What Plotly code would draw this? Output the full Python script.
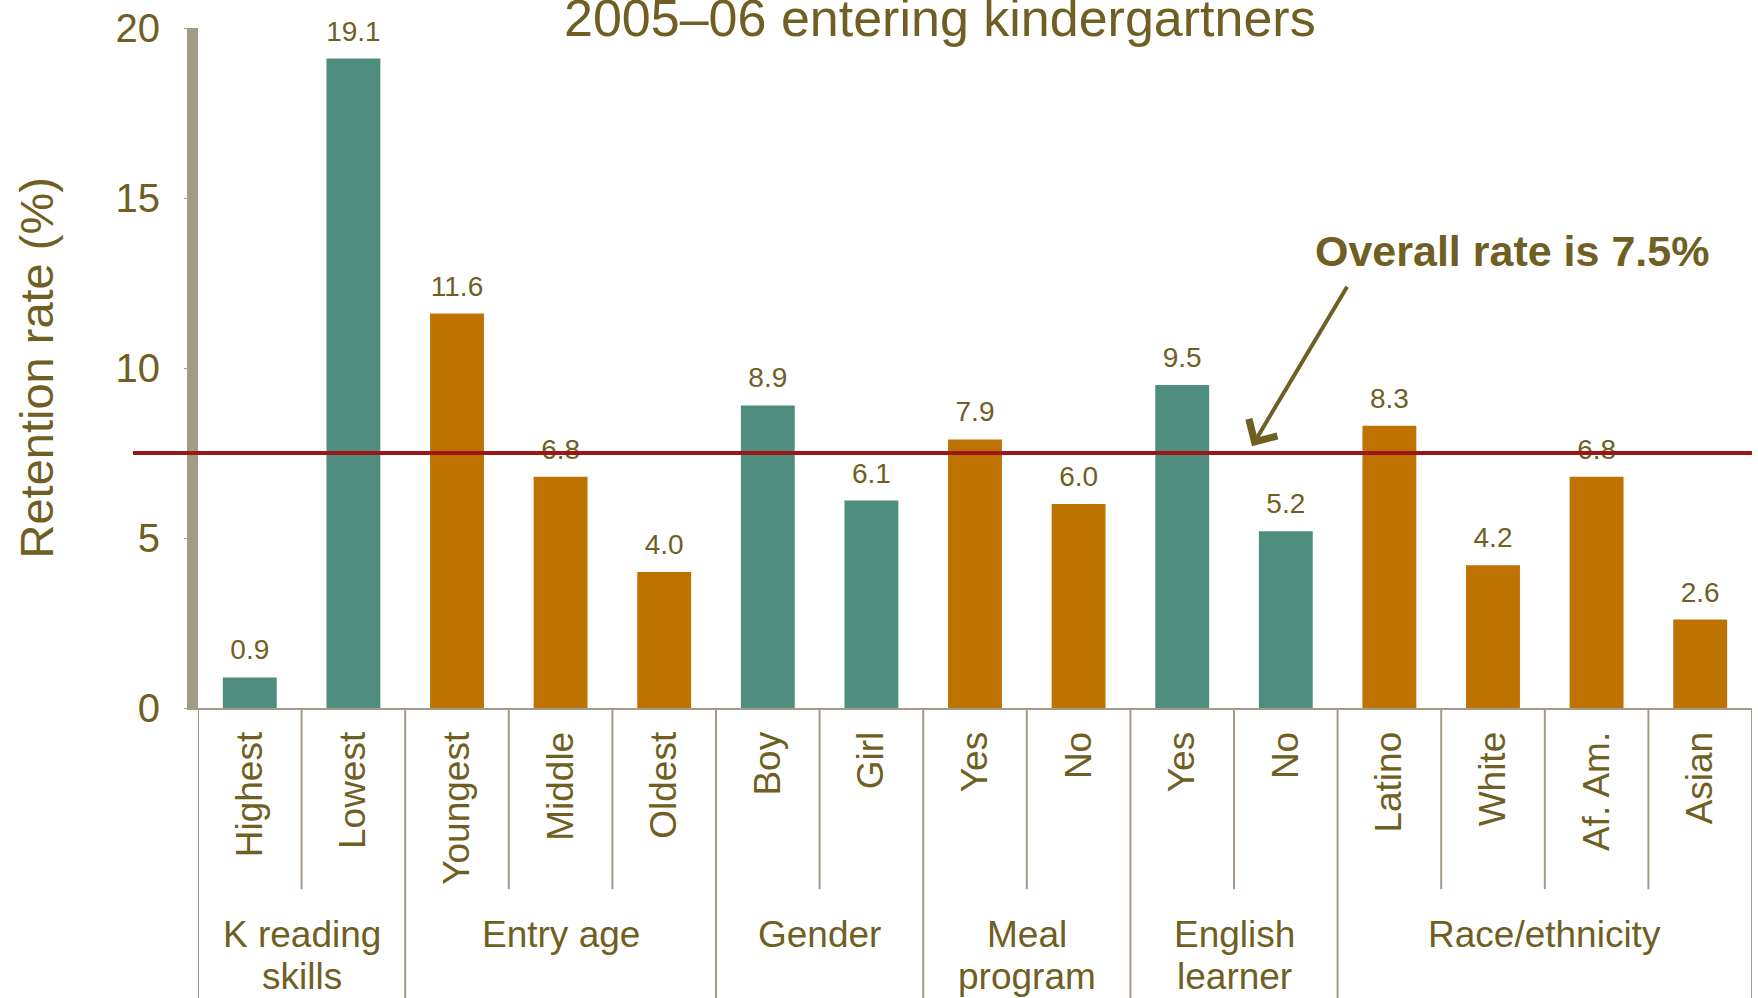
import plotly.graph_objects as go

# Retention rates (%) by student characteristic
categories = ["Highest", "Lowest", "Youngest", "Middle", "Oldest", "Boy", "Girl",
              "Yes", "No", "Yes", "No", "Latino", "White", "Af. Am.", "Asian"]
rates = [0.9, 19.1, 11.6, 6.8, 4.0, 8.9, 6.1, 7.9, 6.0, 9.5, 5.2, 8.3, 4.2, 6.8, 2.6]
group_names = [["K reading", "skills"], ["Entry age"], ["Gender"],
               ["Meal", "program"], ["English", "learner"], ["Race/ethnicity"]]
group_sizes = [2, 3, 2, 2, 2, 4]
overall_rate = 7.5
y_ticks = [0, 5, 10, 15, 20]

TEXT = "#705F23"
TEAL = "#4F8E7E"
ORANGE = "#BE7200"
GREY = "#A39A87"
RED = "#9B1717"
FONT = "Liberation Sans, Arial, sans-serif"

W, H = 1758, 998
M_L, M_R, M_T, M_B = 198, 6, 25, 290
PLOT_H = H - M_T - M_B
PLOT_W = W - M_L - M_R


def px_to_paper_y(py):
    return (H - M_B - py) / PLOT_H


def px_to_paper_x(px):
    return (px - M_L) / PLOT_W


# bar colours alternate by group
bar_colors = []
group_starts = []
pos = 0
for g, n in enumerate(group_sizes):
    group_starts.append(pos)
    bar_colors += [TEAL if g % 2 == 0 else ORANGE] * n
    pos += n

x = list(range(len(categories)))

fig = go.Figure()
fig.add_trace(go.Bar(
    x=x, y=rates, marker_color=bar_colors, marker_line_width=0,
    hoverinfo="skip", showlegend=False,
))
# value labels above each bar
fig.add_trace(go.Scatter(
    x=x, y=rates, mode="markers+text",
    text=[f"{v:.1f}" for v in rates], textposition="top center",
    textfont=dict(family=FONT, size=28, color=TEXT),
    marker=dict(size=16, color="rgba(0,0,0,0)"),
    cliponaxis=False, hoverinfo="skip", showlegend=False,
))

shapes = []
# separators between categories and between groups
boundaries = set(group_starts + [len(categories)])
for b in range(len(categories) + 1):
    is_group = b in boundaries
    shapes.append(dict(
        type="line", xref="x", yref="paper",
        x0=b - 0.5, x1=b - 0.5, y0=0,
        y1=px_to_paper_y(H + 5) if is_group else px_to_paper_y(890),
        line=dict(color=GREY, width=2),
    ))
# overall rate reference line
shapes.append(dict(
    type="line", xref="paper", yref="y",
    x0=px_to_paper_x(133), x1=1, y0=overall_rate, y1=overall_rate,
    line=dict(color=RED, width=4), layer="above",
))

annotations = []
# group labels
for start, n, lines in zip(group_starts, group_sizes, group_names):
    cx = start + (n - 1) / 2
    for i, line in enumerate(lines):
        annotations.append(dict(
            text=line, xref="x", yref="paper", x=cx,
            y=px_to_paper_y(935 + 43 * i), xanchor="center", yanchor="middle",
            showarrow=False, font=dict(family=FONT, size=37, color=TEXT),
        ))
# title
annotations.append(dict(
    text="2005\u201306 entering kindergartners", xref="paper", yref="paper",
    x=px_to_paper_x(940), y=px_to_paper_y(46), xanchor="center", yanchor="bottom",
    showarrow=False, font=dict(family=FONT, size=52, color=TEXT),
))
# y-axis title
annotations.append(dict(
    text="Retention rate (%)", xref="paper", yref="paper",
    x=px_to_paper_x(36), y=px_to_paper_y(367), xanchor="center", yanchor="middle",
    textangle=-90, showarrow=False, font=dict(family=FONT, size=47, color=TEXT),
))
# callout text and arrow
annotations.append(dict(
    text="<b>Overall rate is 7.5%</b>", xref="paper", yref="paper",
    x=px_to_paper_x(1512), y=px_to_paper_y(249), xanchor="center", yanchor="middle",
    showarrow=False, font=dict(family=FONT, size=43, color=TEXT),
))
annotations.append(dict(
    text="", xref="paper", yref="paper",
    x=px_to_paper_x(1252), y=px_to_paper_y(445),
    ax=96, ay=-161, showarrow=True, arrowhead=4, arrowsize=1.6,
    arrowwidth=4, arrowcolor=TEXT,
))

fig.update_layout(
    width=W, height=H,
    margin=dict(l=M_L, r=M_R, t=M_T, b=M_B),
    plot_bgcolor="white", paper_bgcolor="white",
    bargap=0.48, showlegend=False,
    font=dict(family=FONT, color=TEXT),
    shapes=shapes, annotations=annotations,
    xaxis=dict(
        range=[-0.5, len(categories) - 0.5], tickmode="array",
        tickvals=x, ticktext=categories, tickangle=-90,
        tickfont=dict(family=FONT, size=37, color=TEXT),
        ticks="", showgrid=False, zeroline=False,
        showline=True, linecolor=GREY, linewidth=2,
        ticklabelstandoff=7,
    ),
    yaxis=dict(
        range=[0, 20], tickmode="array", tickvals=y_ticks,
        tickfont=dict(family=FONT, size=40, color=TEXT),
        ticks="outside", ticklen=3, tickwidth=1, tickcolor=GREY,
        showgrid=False, zeroline=False,
        showline=True, linecolor=GREY, linewidth=11,
        ticklabelstandoff=16,
    ),
)

fig.write_html("out.html")
